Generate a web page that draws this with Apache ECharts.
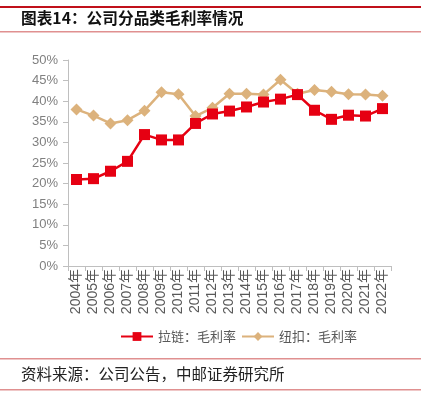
<!DOCTYPE html>
<html><head><meta charset="utf-8">
<script src="https://cdn.jsdelivr.net/npm/echarts@6/dist/echarts.min.js"></script>
<style>html,body{margin:0;padding:0;background:#fff}#c{width:423px;height:393px}</style>
</head><body><div id="c"></div>
<script>
const years = ['2004年','2005年','2006年','2007年','2008年','2009年','2010年','2011年','2012年','2013年','2014年','2015年','2016年','2017年','2018年','2019年','2020年','2021年','2022年'];
const zipperMargin = [21.0,21.2,23.0,25.4,31.9,30.6,30.6,34.6,36.9,37.6,38.6,39.8,40.5,41.6,37.8,35.6,36.6,36.4,38.2];
const buttonMargin = [38.0,36.5,34.6,35.4,37.7,42.2,41.7,36.4,38.4,41.8,41.8,41.6,45.2,41.8,42.7,42.3,41.7,41.6,41.3];
const seriesNames = ['拉链：毛利率','纽扣：毛利率'];
const titleText = '图表14：公司分品类毛利率情况';
const sourceText = '资料来源：公司公告，中邮证券研究所';

const chart = echarts.init(document.getElementById('c'), null, {renderer:'canvas'});
const axisColor = '#bfbfbf';
const labelColor = '#595959';
chart.setOption({
  animation:false,
  backgroundColor:'#fff',
  textStyle:{fontFamily:'Liberation Sans, Arial, sans-serif'},
  grid:{left:68,right:32,top:60,bottom:127,containLabel:false},
  legend:{
    data:seriesNames, top:325, left:115, itemWidth:32, itemHeight:11, itemGap:5,
    textStyle:{fontSize:13,color:labelColor,fontFamily:'Noto Sans CJK SC, sans-serif'}
  },
  xAxis:{
    type:'category', data:years, boundaryGap:true,
    axisLine:{lineStyle:{color:axisColor,width:1}},
    axisTick:{show:true,alignWithLabel:false,length:5,lineStyle:{color:axisColor}},
    axisLabel:{rotate:90,fontSize:14,color:labelColor,margin:3,interval:0,fontFamily:'Liberation Sans, Noto Sans CJK SC, sans-serif'}
  },
  yAxis:{
    type:'value', min:0, max:50, interval:5,
    axisLine:{show:true,lineStyle:{color:axisColor,width:1}},
    axisTick:{show:true,length:5,lineStyle:{color:axisColor}},
    splitLine:{show:false},
    axisLabel:{formatter:'{value}%',fontSize:13,color:'#808080',margin:10}
  },
  series:[
    {name:seriesNames[0],type:'line',data:zipperMargin,symbol:'rect',symbolSize:11,
     lineStyle:{color:'#e60012',width:2.5},itemStyle:{color:'#e60012'},z:3},
    {name:seriesNames[1],type:'line',data:buttonMargin,symbol:'diamond',symbolSize:12,
     lineStyle:{color:'#dcb27c',width:2.5},itemStyle:{color:'#dcb27c'},z:2}
  ],
  graphic:[
    {type:'rect',shape:{x:0,y:6,width:421,height:2},style:{fill:'#c0101a'}},
    {type:'text',left:21,top:10,style:{text:titleText,font:'bold 15.7px "Noto Sans CJK SC", sans-serif',fill:'#111'}},
    {type:'rect',shape:{x:0,y:31,width:421,height:1.5},style:{fill:'#e09090'}},
    {type:'rect',shape:{x:0,y:358,width:421,height:1.5},style:{fill:'#e09090'}},
    {type:'text',left:21,top:366,style:{text:sourceText,font:'15.5px "Noto Sans CJK SC", sans-serif',fill:'#222'}},
    {type:'rect',shape:{x:0,y:389,width:421,height:1.5},style:{fill:'#e09090'}}
  ]
});
</script></body></html>
